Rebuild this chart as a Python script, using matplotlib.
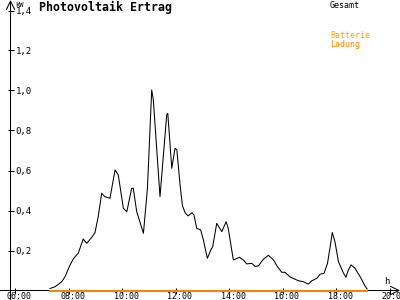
import matplotlib
matplotlib.use('Agg')
import matplotlib.pyplot as plt
import matplotlib.transforms as mtransforms

# Gesamt: hour of day -> kW
hours = [7.31, 7.50, 7.75, 7.87, 8.06, 8.18, 8.37, 8.55, 8.68, 8.87,
         8.99, 9.11, 9.24, 9.36, 9.55, 9.74, 9.86, 10.05, 10.18, 10.36,
         10.42, 10.55, 10.80, 10.95, 11.11, 11.17, 11.42, 11.67, 11.71, 11.86,
         11.98, 12.05, 12.17, 12.26, 12.36, 12.47, 12.61, 12.69, 12.79, 12.94,
         13.04, 13.19, 13.32, 13.39, 13.54, 13.73, 13.89, 13.97, 14.16, 14.26,
         14.39, 14.53, 14.66, 14.85, 14.97, 15.10, 15.28, 15.47, 15.66, 15.79,
         15.97, 16.09, 16.28, 16.59, 16.78, 16.96, 17.09, 17.28, 17.40, 17.55,
         17.68, 17.78, 17.86, 17.96, 18.09, 18.27, 18.37, 18.46, 18.56, 18.71,
         18.90, 19.08, 19.16]
gesamt_kw = [0.010, 0.019, 0.044, 0.069, 0.128, 0.158, 0.188, 0.258, 0.236, 0.266,
             0.289, 0.369, 0.486, 0.469, 0.461, 0.603, 0.578, 0.411, 0.394, 0.511,
             0.511, 0.394, 0.286, 0.511, 1.003, 0.953, 0.469, 0.878, 0.886, 0.611,
             0.711, 0.703, 0.528, 0.423, 0.388, 0.373, 0.389, 0.378, 0.311, 0.303,
             0.253, 0.161, 0.203, 0.219, 0.336, 0.294, 0.344, 0.311, 0.153, 0.158,
             0.166, 0.153, 0.133, 0.136, 0.121, 0.123, 0.156, 0.176, 0.153, 0.123,
             0.091, 0.091, 0.068, 0.049, 0.044, 0.032, 0.048, 0.061, 0.081, 0.086,
             0.136, 0.219, 0.290, 0.243, 0.144, 0.089, 0.066, 0.103, 0.128, 0.111,
             0.069, 0.023, 0.008]

# Batterie / Ladung stay at zero all day
ladung_hours = [7.31, 19.16]
ladung_kw = [0.0, 0.0]

time_ticks = [6, 8, 10, 12, 14, 16, 18, 20]
time_labels = ['06:00', '08:00', '10:00', '12:00', '14:00', '16:00', '18:00', '20:00']
kw_ticks = [0.2, 0.4, 0.6, 0.8, 1.0, 1.2, 1.4]
kw_labels = ['0,2', '0,4', '0,6', '0,8', '1,0', '1,2', '1,4']

plt.rcParams['font.family'] = 'DejaVu Sans Mono'

fig = plt.figure(figsize=(4, 3), dpi=100)
ax = fig.add_axes([10.5 / 400, 9.5 / 300, 389.5 / 400, 290.5 / 300])
ax.set_xlim(5.832, 20.39)
ax.set_ylim(0, 1.4525)
for s in ax.spines.values():
    s.set_visible(False)

# axis lines with open arrow heads, crossing at the origin
arrow = dict(arrowstyle='->,head_length=0.6,head_width=0.3', lw=0.75, color='black',
             shrinkA=0, shrinkB=0)
ax.annotate('', xy=(1, 0), xytext=(-0.03, 0), xycoords='axes fraction',
            arrowprops=arrow, annotation_clip=False, zorder=2)
ax.annotate('', xy=(0, 1), xytext=(0, -0.04), xycoords='axes fraction',
            arrowprops=arrow, annotation_clip=False, zorder=2)

ax.plot(hours, gesamt_kw, color='black', lw=0.75, zorder=3)
ax.plot(ladung_hours, ladung_kw, color='#FFA500', lw=1.2, snap=True,
        clip_on=False, zorder=5)
ax.plot(ladung_hours, ladung_kw, color='#FF8000', lw=1.2, snap=True,
        clip_on=False, zorder=5)

ax.set_xticks(time_ticks, time_labels)
ax.tick_params(axis='x', direction='inout', length=4.5, width=0.75, pad=0, labelsize=6)
shift = mtransforms.ScaledTranslation(4 / 100, 1.5 / 100, fig.dpi_scale_trans)
for lab in ax.get_xticklabels():
    lab.set_transform(lab.get_transform() + shift)

ax.set_yticks(kw_ticks, kw_labels)
ax.tick_params(axis='y', direction='inout', length=4.5, width=0.75, pad=-6.0, labelsize=6.5)
for lab in ax.get_yticklabels():
    lab.set_horizontalalignment('left')

fig.text(39 / 400, 1 - 7 / 300, 'Photovoltaik Ertrag', fontsize=8.4, fontweight='bold',
         va='center', ha='left')
fig.text(15 / 400, 1 - 5 / 300, 'kW', fontsize=5, va='center', ha='left')
fig.text(384 / 400, 1 - 282 / 300, 'h', fontsize=6.5, va='center', ha='left')
fig.text(330 / 400, 1 - 5.5 / 300, 'Gesamt', fontsize=6, va='center', ha='left', color='black')
fig.text(330 / 400, 1 - 36 / 300, 'Batterie', fontsize=6, va='center', ha='left', color='#FFA500')
fig.text(330 / 400, 1 - 44 / 300, 'Ladung', fontsize=6, va='center', ha='left', color='#FF8000')

fig.savefig('out.png', dpi=100)
